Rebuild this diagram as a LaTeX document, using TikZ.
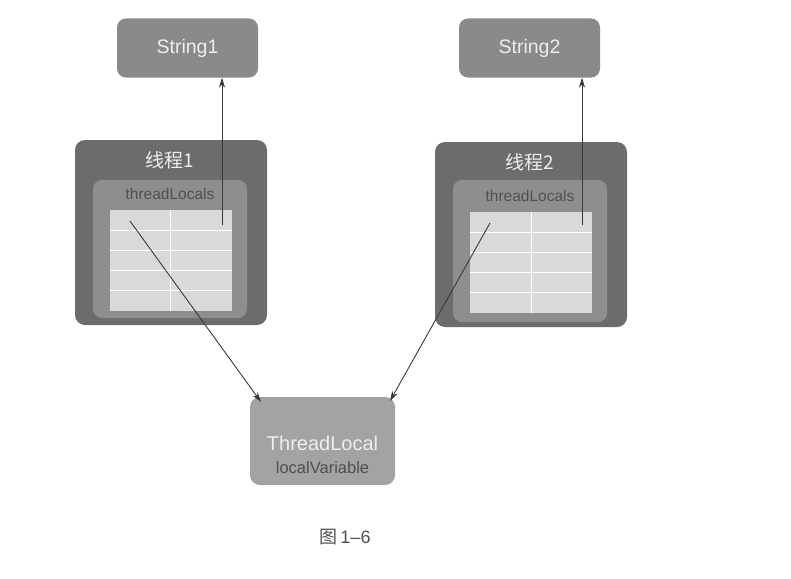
\documentclass[tikz,border=0pt]{standalone}
\usepackage{fontspec}
\setmainfont{Liberation Sans}
\newfontfamily\cjk{Noto Sans CJK SC}
\usetikzlibrary{arrows.meta}
\definecolor{strbox}{HTML}{8A8A8A}
\definecolor{outerbox}{HTML}{6C6C6C}
\definecolor{innerbox}{HTML}{8E8E8E}
\definecolor{tablefill}{HTML}{D9D9D9}
\definecolor{tlbox}{HTML}{A3A3A3}
\definecolor{lighttext}{HTML}{EEEEEE}
\definecolor{darktext}{HTML}{505050}
\definecolor{arrowcol}{HTML}{3A3A3A}
\tikzset{
  strnode/.style={draw=none, fill=strbox, rounded corners=9pt, minimum width=141pt, minimum height=59pt, inner sep=0pt, text=lighttext, font=\fontsize{19.5}{22}\selectfont},
  outernode/.style={draw=none, fill=outerbox, rounded corners=10pt, inner sep=0pt},
  innernode/.style={draw=none, fill=innerbox, rounded corners=9pt, inner sep=0pt},
  tablenode/.style={draw=none, fill=tablefill, inner sep=0pt},
  tlnode/.style={draw=none, fill=tlbox, rounded corners=10pt, minimum width=145pt, minimum height=88pt, inner sep=0pt},
  conn/.style={draw=arrowcol, line width=0.9pt, -{Stealth[length=10pt,width=6pt]}},
  gridline/.style={draw=white, line width=0.8pt},
}
\begin{document}
\begin{tikzpicture}[x=1pt,y=-1pt]
\useasboundingbox (0,0) rectangle (791,578);
\fill[white] (0,0) rectangle (791,578);

% String boxes
\node[strnode] (s1) at (187.5,48) {String1};
\node[strnode] (s2) at (529.5,48) {String2};

% Thread 1
\node[outernode, minimum width=192pt, minimum height=185pt] (t1) at (171,232.5) {};
\node[innernode, minimum width=154pt, minimum height=138pt] (i1) at (170,249) {};
\node[tablenode, minimum width=122pt, minimum height=101pt] (tb1) at (171,260.5) {};
\node[text=lighttext, font=\cjk\fontsize{19}{22}\selectfont] (n1) at (170,160) {线程1};
\node[text=darktext, font=\fontsize{15.5}{18}\selectfont] (l1) at (170,194) {threadLocals};
\foreach \yy in {230,250,270,290} {\draw[gridline] (110,\yy) -- (232,\yy);}
\draw[gridline] (170,210) -- (170,311);

% Thread 2
\node[outernode, minimum width=192pt, minimum height=185pt] (t2) at (531,234.5) {};
\node[innernode, minimum width=154pt, minimum height=142pt] (i2) at (530,251) {};
\node[tablenode, minimum width=122pt, minimum height=101pt] (tb2) at (531,262.5) {};
\node[text=lighttext, font=\cjk\fontsize{19}{22}\selectfont] (n2) at (530,162) {线程2};
\node[text=darktext, font=\fontsize{15.5}{18}\selectfont] (l2) at (530,196) {threadLocals};
\foreach \yy in {232,252,272,292} {\draw[gridline] (470,\yy) -- (592,\yy);}
\draw[gridline] (531,212) -- (531,313);

% ThreadLocal box
\node[tlnode] (tl) at (322.5,441) {};
\node[text=lighttext, font=\fontsize{20}{24}\selectfont] (tlt) at (322.5,443) {ThreadLocal};
\node[text=darktext, font=\fontsize{16.5}{20}\selectfont] (tlv) at (322.5,468) {localVariable};

% connector anchors
\coordinate (a1) at (222,225);
\coordinate (a2) at (130,221);
\coordinate (a3) at (490,223);
\coordinate (a4) at (582,225);
\coordinate (tlL) at (261,402);
\coordinate (tlR) at (390,401);

\draw[conn] (a1) -- (a1 |- s1.south);
\draw[conn] (a4) -- (a4 |- s2.south);
\draw[conn] (a2) -- (tlL);
\draw[conn] (a3) -- (tlR);

% caption
\node[text=darktext, font=\fontsize{18}{21}\selectfont] (cap) at (345,537) {{\cjk 图}\,1--6};
\end{tikzpicture}
\end{document}
